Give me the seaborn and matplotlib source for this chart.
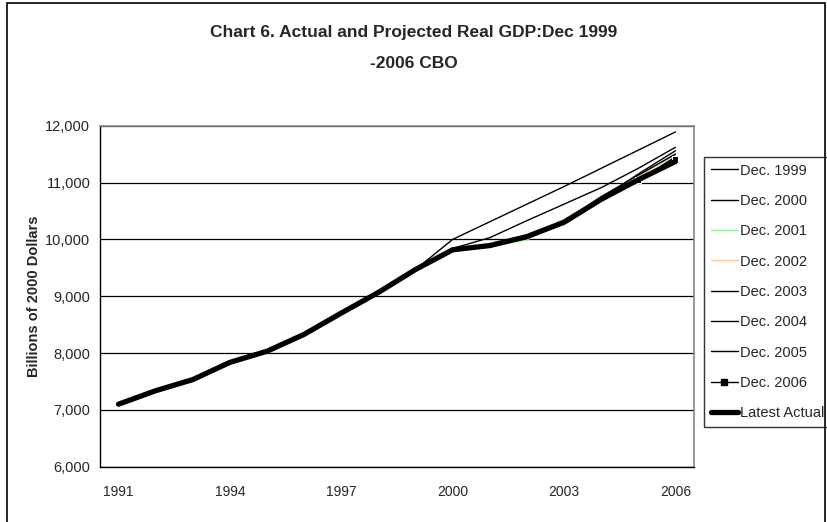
import matplotlib
matplotlib.use("Agg")
import matplotlib.pyplot as plt
import matplotlib.ticker as mticker
from matplotlib.lines import Line2D
from matplotlib.patches import Rectangle
import pandas as pd
import seaborn as sns

# Real GDP, billions of 2000 dollars
years = list(range(1991, 2007))
actual = [7100, 7337, 7533, 7836, 8032, 8329, 8704, 9067,
          9470, 9817, 9891, 10049, 10301, 10704, 11049, 11370]

# CBO projections by vintage (year, value)
dec_1999_years = [1999, 2000, 2001, 2002, 2003, 2004, 2005, 2006]
dec_1999 = [9470, 10000, 10310, 10620, 10930, 11250, 11570, 11890]

dec_2000_years = [2000, 2001, 2002, 2003, 2004, 2005, 2006]
dec_2000 = [9840, 10030, 10330, 10620, 10910, 11250, 11620]

dec_2001_years = [2001, 2002, 2003, 2004, 2005, 2006]
dec_2001 = [9880, 9990, 10330, 10760, 11120, 11480]

dec_2002_years = [2002, 2003, 2004, 2005, 2006]
dec_2002 = [10040, 10360, 10720, 11090, 11520]

dec_2003_years = [2003, 2004, 2005, 2006]
dec_2003 = [10300, 10750, 11130, 11500]

dec_2004_years = [2004, 2005, 2006]
dec_2004 = [10720, 11150, 11560]

dec_2005_years = [2005, 2006]
dec_2005 = [11040, 11450]

dec_2006_years = [2005, 2006]
dec_2006 = [11050, 11420]

labels = ["Dec. 1999", "Dec. 2000", "Dec. 2001", "Dec. 2002", "Dec. 2003",
          "Dec. 2004", "Dec. 2005", "Dec. 2006", "Latest Actual"]
colors = ["black", "black", "#99ee99", "#ffc896", "black",
          "black", "black", "black", "black"]

projections = [
    (dec_1999_years, dec_1999), (dec_2000_years, dec_2000),
    (dec_2001_years, dec_2001), (dec_2002_years, dec_2002),
    (dec_2003_years, dec_2003), (dec_2004_years, dec_2004),
    (dec_2005_years, dec_2005), (dec_2006_years, dec_2006),
]

frames = []
for name, (yrs, vals) in zip(labels[:-1], projections):
    frames.append(pd.DataFrame({"year": yrs, "gdp": vals, "series": name}))
frames.append(pd.DataFrame({"year": years, "gdp": actual, "series": "Latest Actual"}))
df = pd.concat(frames, ignore_index=True)

sns.set_style("white")
plt.rcParams["font.family"] = ["Liberation Sans", "DejaVu Sans"]

fig = plt.figure(figsize=(8.28, 5.22), dpi=100)
ax = fig.add_axes([100 / 828, 1 - 466.7 / 522, (694 - 100) / 828, (466.7 - 125.7) / 522])

for name, color in zip(labels, colors):
    sub = df[df["series"] == name]
    if name == "Latest Actual":
        sns.lineplot(data=sub, x="year", y="gdp", ax=ax, color=color,
                     linewidth=3.8, zorder=5, solid_capstyle="round")
    elif name == "Dec. 2006":
        sns.lineplot(data=sub, x="year", y="gdp", ax=ax, color=color,
                     linewidth=1.0, marker="s", markersize=4, zorder=4)
    else:
        sns.lineplot(data=sub, x="year", y="gdp", ax=ax, color=color,
                     linewidth=1.0, zorder=3)

ax.set_xlim(1990.5, 2006.5)
ax.set_ylim(6000, 12000)
ax.set_xlabel("")
ax.set_ylabel("Billions of 2000 Dollars", fontsize=10.5, fontweight="bold")
ax.yaxis.set_label_coords(-0.099, 0.5)

ax.yaxis.set_major_locator(mticker.MultipleLocator(1000))
ax.yaxis.set_major_formatter(mticker.FuncFormatter(lambda v, p: f"{int(v):,}"))
ax.set_xticks(range(1991, 2007, 3))
ax.set_xticks([1990.5 + i for i in range(17)], minor=True)
ax.tick_params(axis="x", which="major", length=0, pad=13, labelsize=10)
ax.tick_params(axis="x", which="minor", length=5, width=1, color="black", direction="out")
ax.tick_params(axis="y", which="major", length=4, width=1, color="black",
               direction="out", pad=3, labelsize=10.5)

ax.grid(axis="y", color="black", linewidth=0.9)
ax.grid(axis="x", visible=False)
ax.set_axisbelow(True)
for side in ["left", "bottom"]:
    ax.spines[side].set_color("black")
    ax.spines[side].set_linewidth(1.0)
for side in ["top", "right"]:
    ax.spines[side].set_color("#888888")
    ax.spines[side].set_linewidth(1.2)

handles = []
for name, color in zip(labels, colors):
    if name == "Latest Actual":
        handles.append(Line2D([], [], color=color, linewidth=3.8))
    elif name == "Dec. 2006":
        handles.append(Line2D([], [], color=color, linewidth=1.0, marker="s", markersize=4))
    else:
        handles.append(Line2D([], [], color=color, linewidth=1.0))
leg = ax.legend(handles, labels, loc="upper left",
                bbox_to_anchor=(704 / 828, 1 - 157 / 522), bbox_transform=fig.transFigure,
                borderaxespad=0, frameon=True, fancybox=False, shadow=False,
                edgecolor="black", fontsize=10.5, handlelength=1.9,
                handletextpad=0.15, labelspacing=1.12, borderpad=0.45)
leg.get_frame().set_linewidth(1.0)

fig.text(0.5, 1 - 33 / 522, "Chart 6. Actual and Projected Real GDP:Dec 1999",
         ha="center", va="center", fontsize=12.5, fontweight="bold")
fig.text(0.5, 1 - 63 / 522, "-2006 CBO",
         ha="center", va="center", fontsize=12.5, fontweight="bold")

fig.patches.append(Rectangle((7 / 828, -0.05), (825 - 7) / 828, 1.05 - 3 / 522,
                             transform=fig.transFigure, fill=False,
                             edgecolor="black", linewidth=1.2))

fig.savefig("out.png", dpi=100)
